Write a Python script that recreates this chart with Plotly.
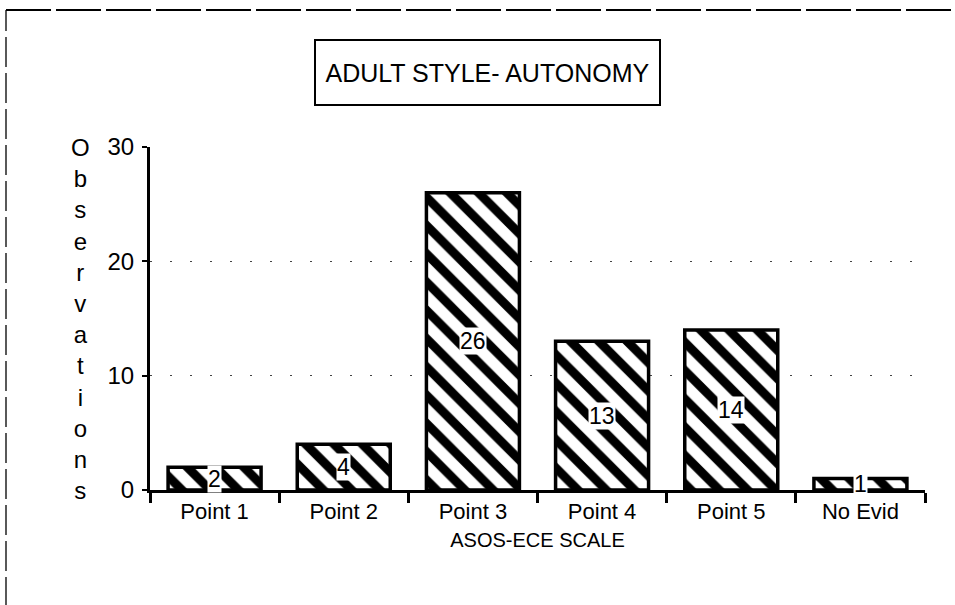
import plotly.graph_objects as go

categories = ["Point 1", "Point 2", "Point 3", "Point 4", "Point 5", "No Evid"]
observations = [2, 4, 26, 13, 14, 1]
y_ticks = [0, 10, 20, 30]
title_text = "ADULT STYLE- AUTONOMY"
x_title = "ASOS-ECE SCALE"
y_title = "Observations"

FONT = "Liberation Sans, Arial, sans-serif"
L, R, T, B = 150, 30, 147, 115
W, H = 955, 605
PW, PH = W - L - R, H - T - B

fig = go.Figure()
fig.add_trace(go.Bar(
    x=categories, y=observations, width=0.72,
    marker=dict(color="white", line=dict(color="black", width=3.5),
                pattern=dict(shape="\\", fgcolor="black", bgcolor="white",
                             fgopacity=1, size=20, solidity=0.45, fillmode="replace")),
    hoverinfo="x+y",
))

for c, v in zip(categories, observations):
    fig.add_annotation(x=c, y=v / 2, text=str(v), showarrow=False,
                       font=dict(family=FONT, size=23, color="black"),
                       bgcolor="white", borderpad=0)

fig.add_annotation(xref="paper", yref="paper", x=(487 - L) / PW, y=1.0,
                   yanchor="middle", yshift=75,
                   text=title_text, showarrow=False, width=327, height=47,
                   font=dict(family=FONT, size=25, color="black"),
                   bordercolor="black", borderwidth=2, borderpad=8, bgcolor="white")

fig.add_annotation(xref="paper", yref="paper", x=0, y=0.5, xshift=-58,
                   xanchor="right", yanchor="middle",
                   text="<br>".join(list(y_title)), showarrow=False,
                   font=dict(family=FONT, size=24, color="black"),
                   align="center")

# dashed outer frame (left and top edges)
fx = (6 - L) / PW
fy = 1 + (T - 10) / PH
fb = -(B + 2) / PH
fig.add_shape(type="line", xref="paper", yref="paper",
              x0=fx, x1=fx, y0=fb, y1=fy,
              line=dict(color="black", width=1.3, dash="30px,6px"))
fig.add_shape(type="line", xref="paper", yref="paper",
              x0=fx, x1=1 + (R + 2) / PW, y0=fy, y1=fy,
              line=dict(color="black", width=1.8, dash="45px,5px"))

fig.update_layout(
    width=W, height=H,
    margin=dict(l=L, r=R, t=T, b=B),
    paper_bgcolor="white", plot_bgcolor="white",
    showlegend=False, bargap=0.28,
    font=dict(family=FONT, color="black"),
    xaxis=dict(
        type="category", showline=True, linecolor="black", linewidth=3,
        ticks="outside", ticklen=10, tickwidth=2.5, tickcolor="black",
        tickson="boundaries", showgrid=False,
        tickfont=dict(family=FONT, size=22),
        title=dict(text=x_title, font=dict(family=FONT, size=20), standoff=10),
        range=[-0.5, 5.5],
    ),
    yaxis=dict(
        range=[0, 30], tickvals=y_ticks, showline=True, linecolor="black",
        linewidth=3, ticks="outside", ticklen=5, tickwidth=1.5, tickcolor="black",
        tickfont=dict(family=FONT, size=24), ticklabelstandoff=3,
        showgrid=True, gridcolor="#444444", griddash="2px,18px", gridwidth=1.2,
        zeroline=False,
    ),
)

fig.write_html("out.html", config={"displayModeBar": False},
               post_script="document.body.style.margin='0';")
